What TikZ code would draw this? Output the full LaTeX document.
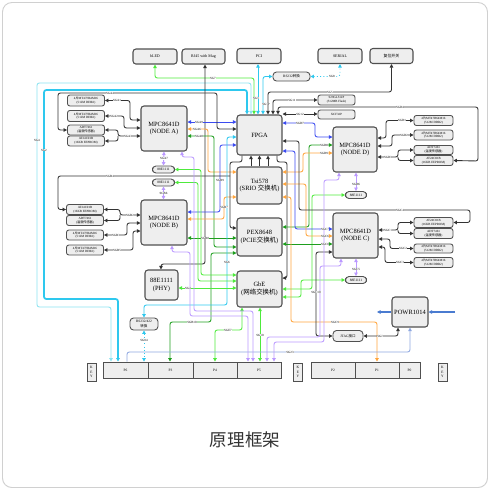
\documentclass[tikz,border=0pt]{standalone}
\usepackage{fontspec}
\setmainfont{Liberation Serif}
\newfontfamily\cjk{Noto Sans CJK SC}
\usetikzlibrary{arrows.meta}
\definecolor{cbd}{HTML}{505050}
\definecolor{cfill}{HTML}{EEEEEE}
\definecolor{cblk}{HTML}{333333}
\definecolor{cblu}{HTML}{3B4BF0}
\definecolor{corg}{HTML}{FFA53D}
\definecolor{cdgr}{HTML}{1E9E1E}
\definecolor{clgr}{HTML}{4EEA3C}
\definecolor{ccyn}{HTML}{2EC8EE}
\definecolor{ccyl}{HTML}{8BE3F0}
\definecolor{cvio}{HTML}{BB99FF}
\definecolor{clbl}{HTML}{8FA8E0}
\definecolor{cpwr}{HTML}{4A7BD0}
\definecolor{cframe}{HTML}{D0D0D0}
\definecolor{ctitle}{HTML}{333333}
\tikzset{
  sz/.style 2 args={minimum width=#1*0.03cm, minimum height=#2*0.03cm},
  bigbox/.style={draw=cbd, fill=cfill, line width=0.9pt, rounded corners=2.5pt, align=center, inner sep=0pt, font=\fontsize{5.5}{6.6}\selectfont},
  topbox/.style={draw=cbd, fill=cfill, line width=0.9pt, rounded corners=2.5pt, align=center, inner sep=0pt, font=\fontsize{3.4}{4}\selectfont},
  membox/.style={draw=cbd, fill=cfill, line width=0.75pt, rounded corners=2pt, align=center, inner sep=0pt, font=\fontsize{2.7}{3.1}\selectfont},
  pill/.style={draw=cbd, fill=cfill, line width=0.75pt, rounded corners=3pt, align=center, inner sep=0pt, font=\fontsize{3}{3.6}\selectfont},
  seg/.style={draw=cbd, fill=cfill, line width=0.75pt, inner sep=0pt, align=center, font=\fontsize{3}{3.6}\selectfont},
  lab/.style={fill=white, inner sep=0.3pt, font=\fontsize{2.7}{3}\selectfont, text=black},
  ln/.style={line width=0.75pt, rounded corners=2pt},
  >={Triangle[length=3pt,width=3pt]},
}
\begin{document}
\begin{tikzpicture}[x=0.03cm,y=-0.03cm]
\useasboundingbox (0,0) rectangle (490,490);
\draw[cframe, rounded corners=8pt, line width=0.8pt] (2.5,2.5) rectangle (487.5,487.5);

% ---------- nodes ----------
\node[topbox,sz={44}{15}] (led) at (155,56.5) {bLED};
\node[topbox,sz={43}{15}] (rj) at (203.5,56.5) {RJ45 with Mag};
\node[topbox,sz={44}{15}] (pci) at (259,56) {PCI};
\node[topbox,sz={44}{15}] (ser) at (340,56) {SERIAL};
\node[topbox,sz={43}{15}] (rst) at (391.5,56) {\cjk 复位开关};
\node[pill,sz={37}{9}] (rs232) at (291.5,76.5) {RS232{\cjk 转换}};
\node[membox,sz={37}{10}] (flash) at (336.5,100) {S29GL512P\\(512MB Flash)};
\node[membox,sz={37}{9}] (xcf) at (336.5,114.5) {XCF32P};

\node[bigbox,sz={45}{40}] (fpga) at (259.5,135) {FPGA};
\node[bigbox,sz={45}{37}] (tsi) at (259.5,185.5) {Tsi578\\(SRIO {\cjk 交换机})};
\node[bigbox,sz={45}{38}] (pex) at (259.5,237) {PEX8648\\(PCIE{\cjk 交换机})};
\node[bigbox,sz={45}{36}] (gbe) at (259.5,289) {GbE\\({\cjk 网络交换机})};
\node[bigbox,sz={46}{45}] (nA) at (164,128.5) {MPC8641D\\(NODE A)};
\node[bigbox,sz={46}{45}] (nB) at (164,222.5) {MPC8641D\\(NODE B)};
\node[bigbox,sz={44}{45}] (nD) at (355,149.5) {MPC8641D\\(NODE D)};
\node[bigbox,sz={45}{45}] (nC) at (355.5,235.5) {MPC8641D\\(NODE C)};
\node[bigbox,sz={33}{30}] (phy) at (161.5,285) {88E1111\\(PHY)};
\node[bigbox,sz={36}{30}] (powr) at (410,312) {POWR1014};

\node[pill,sz={22}{7}] (sA) at (163.5,169.5) {88E1111};
\node[pill,sz={22}{7}] (sB) at (163.5,182.5) {88E1111};
\node[pill,sz={21}{7}] (sD) at (356,195) {88E1111};
\node[pill,sz={21}{7}] (sC) at (356,280) {88E1111};
\node[pill,sz={28}{12}] (rs422) at (144,324) {RS232/422\\{\cjk 转换}};
\node[pill,sz={30}{11}] (jtag) at (348,336) {JTAG{\cjk 接口}};

\node[membox,sz={37}{11}] (A1) at (86,100.5) {4{\cjk 片}MT47H64M16\\(512M DDR2)};
\node[membox,sz={37}{11}] (A2) at (86,116) {4{\cjk 片}MT47H64M16\\(512M DDR2)};
\node[membox,sz={37}{10}] (A3) at (86,130) {ADT7461\\({\cjk 温度传感器})};
\node[membox,sz={37}{10}] (A4) at (86,141) {AT24C01B\\(16KB EEPROM)};

\node[membox,sz={37}{10}] (B1) at (85,209.5) {AT24C01B\\(16KB EEPROM)};
\node[membox,sz={37}{10}] (B2) at (85,220.5) {ADT7461\\({\cjk 温度传感器})};
\node[membox,sz={37}{10}] (B3) at (85,235) {4{\cjk 片}MT47H64M16\\(512M DDR2)};
\node[membox,sz={37}{10}] (B4) at (85,250) {4{\cjk 片}MT47H64M16\\(512M DDR2)};

\node[membox,sz={39}{10}] (D1) at (433.5,120.5) {4{\cjk 片}MT47H64M16\\(512M DDR2)};
\node[membox,sz={39}{10}] (D2) at (433.5,135) {4{\cjk 片}MT47H64M16\\(512M DDR2)};
\node[membox,sz={39}{9}] (D3) at (433.5,150) {ADT7461\\({\cjk 温度传感器})};
\node[membox,sz={39}{10}] (D4) at (433.5,160.5) {AT24C01B\\(16KB EEPROM)};

\node[membox,sz={39}{10}] (C1) at (433.5,222.5) {AT24C01B\\(16KB EEPROM)};
\node[membox,sz={39}{10}] (C2) at (433.5,233.5) {ADT7461\\({\cjk 温度传感器})};
\node[membox,sz={39}{9}] (C3) at (433.5,248.5) {4{\cjk 片}MT47H64M16\\(512M DDR2)};
\node[membox,sz={39}{10}] (C4) at (433.5,262.5) {4{\cjk 片}MT47H64M16\\(512M DDR2)};

\node[seg,sz={45}{16}] (p6) at (125.5,370) {P6};
\node[seg,sz={45}{16}] (p3) at (170.5,370) {P3};
\node[seg,sz={44}{16}] (p4) at (215,370) {P4};
\node[seg,sz={44}{16}] (p5) at (259,370) {P5};
\node[seg,sz={44}{16}] (p2) at (333,370) {P2};
\node[seg,sz={44}{16}] (p1) at (377,370) {P1};
\node[seg,sz={21}{16}] (p0) at (409.5,370) {P0};
\node[seg,sz={9}{18}] (k1) at (91.5,372) {K\\E\\Y};
\node[seg,sz={9}{18}] (k2) at (298,372) {K\\E\\Y};
\node[seg,sz={9}{18}] (k3) at (442.5,372) {K\\E\\Y};

\node[font=\cjk\fontsize{15}{15}\selectfont, text=ctitle] (title) at (245,440) {原理框架};

% ---------- junctions ----------
\coordinate (jA) at (118,136);
\coordinate (jB) at (120,215);
\coordinate (jD) at (398,157);
\coordinate (jC) at (398,230);
\coordinate (jT) at (230,176);
\coordinate (pin) at (455,312);
\coordinate (pout) at (377,312);

% ---------- top connectors ----------
\draw[ln,clgr,<->] (fpga.north -| 254,0) -- (254,78) -| (led.south);
\draw[ln,ccyl,<->] (p6.north -| 111,0) -- (111,307) -| (37,83) -| (fpga.north -| 251,0);
\draw[ln,ccyn,line width=1.5pt,<->] (p6.north -| 118,0) -- (118,299) -| (44,90) -| (fpga.north -| 247,0);
\draw[ln,ccyn,<->] (fpga.north -| 258,0) -- (pci.south -| 258,0);
\draw[ln,ccyn,<->] (fpga.north -| 263,0) |- (rs232.west);
\draw[ln,ccyn,dotted,<->] (rs232.east) -| (ser.south);
\draw[ln,cblk,<->] (fpga.north -| 268,0) -- (268,92) -| (rst.south);
\draw[ln,cblk,<->] (fpga.north -| 273,0) |- (flash.west);
\draw[ln,cblk,<->] (fpga.north -| 278,0) -- (278,107) -| (478,161) -- (D4.east);
\draw[ln,cblk,<->] (fpga.east |- 0,114) -- (xcf.west |- 0,114);
\draw[ln,cblk,<->] (rj.south -| 205,0) -- (205,264) -| (phy.north -| 161,0);

% ---------- NODE A ----------
\draw[ln,cblu,<->] (nA.east |- 0,122) -- (fpga.west |- 0,122);
\draw[ln,corg,<->] (nA.east |- 0,129) -- (208,129) |- (tsi.west |- 0,172);
\draw[ln,cdgr,<->] (nA.east |- 0,136) -- (214,136) |- (pex.west |- 0,247);
\draw[ln,cblk,<->] (A3.west) -- (58,130) |- (217,93) |- (fpga.west |- 0,129);
\draw[ln,cblk,<->] (nA.west |- 0,120) -- (130,120) |- (A1.east);
\draw[ln,cblk,<->] (nA.west |- 0,128) -- (124,128) |- (A2.east);
\draw[ln,cblk,<->] (nA.west |- 0,136) -- (jA) |- (A3.east);
\draw[ln,cblk,->] (jA) |- (A4.east);

% ---------- NODE B ----------
\draw[ln,cblu,<->] (fpga.west |- 0,145) -- (220,145) |- (nB.east |- 0,212);
\draw[ln,corg,<->] (tsi.west |- 0,197) -- (224,197) |- (nB.east |- 0,219);
\draw[ln,cdgr,<->] (nB.east |- 0,238) -- (pex.west |- 0,238);
\draw[ln,cblk,->] (fpga.south -| 242,0) -- (242,162) -| (230,228) -- (pex.west |- 0,228);
\draw[ln,cblk,<-] (B1.west) -- (58,209.5) |- (jT);
\draw[ln,cblk,<->] (nB.west |- 0,215) -- (jB) |- (B1.east);
\draw[ln,cblk,->] (jB) |- (B2.east);
\draw[ln,cblk,<->] (nB.west |- 0,223) -- (127,223) |- (B3.east);
\draw[ln,cblk,<->] (nB.west |- 0,231) -- (133,231) |- (B4.east);
\draw[ln,cdgr,<->] (pex.west |- 0,253) -- (211,253) |- (170,322) -- (p3.north -| 170,0);

% ---------- FPGA / switches ----------
\draw[ln,cblk,->] (tsi.north -| 251,0) -- (fpga.south -| 251,0);
\draw[ln,cblk,->] (tsi.north -| 259.5,0) -- (fpga.south -| 259.5,0);
\draw[ln,cblk,->] (tsi.north -| 268,0) -- (fpga.south -| 268,0);
\draw[ln,cblk,->] (fpga.south -| 277,0) -- (277,162) -| (287,278) -- (gbe.east |- 0,278);
\draw[ln,ccyn,<->] (fpga.west |- 0,137) -- (227,137) |- (144,305) -- (rs422.north);
\draw[ln,ccyn,dotted,<->] (rs422.south) -- (p6.north -| 144,0);

% ---------- GbE ----------
\draw[ln,clgr,<->] (sA.east) -- (201,169.5) |- (gbe.west |- 0,275);
\draw[ln,clgr,<->] (sB.east) -- (198,182.5) |- (gbe.west |- 0,281);
\draw[ln,clgr,<->] (phy.east |- 0,288) -- (gbe.west |- 0,288);
\draw[ln,clgr,<->] (gbe.south -| 242,0) -- (242,330) -| (p4.north -| 215,0);
\draw[ln,clgr,<->] (gbe.south -| 260,0) -- (p5.north -| 260,0);
\draw[ln,clgr,<->] (sD.west) -- (312,195) |- (gbe.east |- 0,289);
\draw[ln,clgr,<->] (sC.west) -- (301,280) |- (gbe.east |- 0,297);

% ---------- NODE D / C ----------
\draw[ln,cblu,<->] (fpga.east |- 0,123) -- (315,123) |- (nD.west |- 0,137);
\draw[ln,cdgr,<->] (nD.west |- 0,145) -- (309,145) |- (pex.east |- 0,227);
\draw[ln,corg,<->] (nD.west |- 0,153) -- (303,153) |- (tsi.east |- 0,172);
\draw[ln,cblu,<->] (fpga.east |- 0,151) -- (295,151) |- (nC.west |- 0,229);
\draw[ln,corg,<->] (nC.west |- 0,236) -- (306,236) |- (tsi.east |- 0,184);
\draw[ln,cdgr,<->] (nC.west |- 0,244) -- (pex.east |- 0,244);
\draw[ln,corg,<->] (tsi.east |- 0,197) -- (291,197) |- (377,322) -- (p1.north);
\draw[ln,cblk,<->] (fpga.east |- 0,141) -- (299,141) |- (470,210) |- (C1.east);
\draw[ln,cblk,<->] (nD.east |- 0,138) -- (386,138) |- (D1.west);
\draw[ln,cblk,<->] (nD.east |- 0,146) -- (392,146) |- (D2.west);
\draw[ln,cblk,<->] (nD.east |- 0,157) -- (jD) |- (D3.west);
\draw[ln,cblk,->] (jD) |- (D4.west);
\draw[ln,cblk,<->] (nC.east |- 0,230) -- (jC) |- (C1.west);
\draw[ln,cblk,->] (jC) |- (C2.west);
\draw[ln,cblk,<->] (nC.east |- 0,239) -- (390,239) |- (C3.west);
\draw[ln,cblk,<->] (nC.east |- 0,247) -- (385,247) |- (C4.west);
\draw[ln,cblk,<->] (nC.west |- 0,252) -- (316,252) |- (jtag.west);
\draw[ln,cblk,<->] (jtag.east) -| (powr.south -| 398,0);
\draw[ln,clbl,->] (p6.north -| 127,0) -- (127,352) -| (powr.south -| 410,0);
\draw[cpwr,line width=1pt,->] (pin) -- (powr.east);
\draw[cpwr,line width=1pt,->] (powr.west) -- (pout);

% ---------- violet ----------
\draw[ln,cvio,<->] (nA.south -| 164,0) -- (sA.north);
\draw[ln,cvio,<->] (sB.south) -- (nB.north -| 163.5,0);
\draw[ln,cvio,<->] (nD.south -| 356,0) -- (sD.north);
\draw[ln,cvio,<->] (nC.south -| 356,0) -- (sC.north);
\draw[ln,cvio,<->] (nA.south -| 182,0) -- (182,157) -| (194,311) -| (p5.north -| 253,0);
\draw[ln,cvio,<->] (nB.south -| 172,0) -- (172,252) -| (190,316) -| (p5.north -| 248,0);
\draw[ln,cvio,<->] (nD.south -| 339,0) -- (339,180) -| (324,342) -| (p5.north -| 274,0);
\draw[ln,cvio,<->] (nC.south -| 341,0) -- (341,266) -| (320,337) -| (p5.north -| 267,0);

% ---------- labels ----------
\node[lab] (l1) at (213,78) {SG7};
\node[lab] (l2) at (256,98) {SG3};
\node[lab] (l3) at (266,104) {SG1P};
\node[lab] (l4) at (332,76.5) {SG8};
\node[lab] (l5) at (330,92) {SG5};
\node[lab] (l6) at (292,100) {SG11};
\node[lab] (l7) at (300,114) {SG12};
\node[lab] (l8) at (400,107) {SGD4};
\node[lab] (l9) at (37,140) {SG4};
\node[lab] (l10) at (44,150) {SG2};
\node[lab] (l11) at (110,93) {SGA4};
\node[lab] (l12) at (117,100.5) {SGA1};
\node[lab] (l13) at (114,116) {SGA2};
\node[lab] (l14) at (128,136) {SGA3};
\node[lab] (l15) at (199,122) {SGA9};
\node[lab] (l16) at (197,129) {SGA6};
\node[lab] (l17) at (199,136) {SGA8};
\node[lab] (l18) at (164,158.5) {SGA7};
\node[lab] (l19) at (163.5,193) {SGB6};
\node[lab] (l20) at (110,176) {SGB4};
\node[lab] (l21) at (130,215) {SGB2};
\node[lab] (l22) at (116,235) {SGB3};
\node[lab] (l23) at (117,250) {SGB5};
\node[lab] (l24) at (220,180) {SGB9};
\node[lab] (l25) at (224,207) {SGB7};
\node[lab] (l26) at (205,238) {SGB8};
\node[lab] (l27) at (192,322) {SGB10};
\node[lab] (l28) at (227,262) {SG6};
\node[lab] (l29) at (188,288) {SG4};
\node[lab] (l30) at (228,330) {SGE7};
\node[lab] (l31) at (260,335) {SG10};
\node[lab] (l32) at (144,340) {SG04};
\node[lab] (l33) at (300,123) {SGD7};
\node[lab] (l34) at (324,145) {SGD8};
\node[lab] (l35) at (324,153) {SGD9};
\node[lab] (l36) at (356,184) {SGD6};
\node[lab] (l37) at (356,269) {SGC5};
\node[lab] (l38) at (400,210) {SGC4};
\node[lab] (l39) at (325,229) {SGC7};
\node[lab] (l40) at (325,236) {SGC6};
\node[lab] (l41) at (325,244) {SGC8};
\node[lab] (l42) at (335,322) {SGC9};
\node[lab] (l43) at (316,292) {SGC10};
\node[lab] (l44) at (380,336) {SGJ};
\node[lab] (l45) at (290,352) {SG23};
\node[lab] (l46) at (402,120.5) {SGD1};
\node[lab] (l47) at (404,135) {SGD2};
\node[lab] (l48) at (388,157) {SGD3};
\node[lab] (l49) at (388,230) {SGC1};
\node[lab] (l50) at (403,248.5) {SGC2};
\node[lab] (l51) at (400,262.5) {SGC3};
\end{tikzpicture}
\end{document}
